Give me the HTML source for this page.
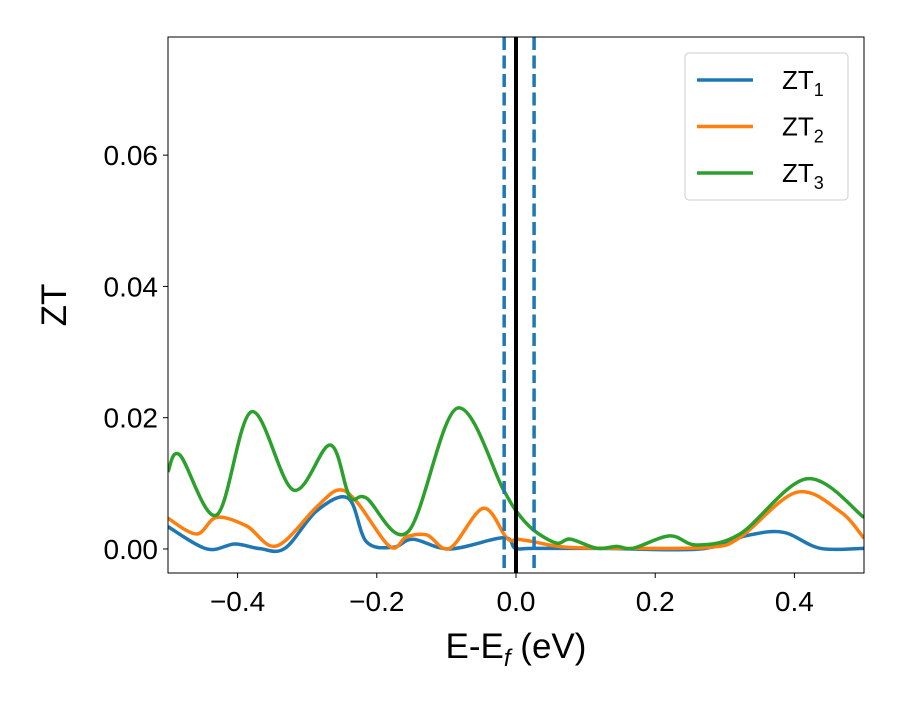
<!DOCTYPE html>
<html><head><meta charset="utf-8"><style>
body{margin:0;background:#fff;}
svg text{font-family:"Liberation Sans","DejaVu Sans",sans-serif;}
</style></head><body>
<svg id="chart" width="900" height="700" xmlns="http://www.w3.org/2000/svg">
<g id="series"></g>
<g id="axes"></g>
</svg>
<script>
const xTicks=[-0.4,-0.2,0.0,0.2,0.4];
const xTickLabels=["\u22120.4","\u22120.2","0.0","0.2","0.4"];
const yTicks=[0,0.02,0.04,0.06];
const yTickLabels=["0.00","0.02","0.04","0.06"];
const zt1X=[-0.5,-0.444,-0.404,-0.368,-0.332,-0.286,-0.241,-0.215,-0.176,-0.148,-0.095,-0.018,-0.001,0.025,0.121,0.264,0.331,0.384,0.437,0.5];
const zt1Y=[0.0034,0,0.00076,0.00005,0.0001,0.00584,0.00773,0.00111,0.00026,0.00148,0,0.00172,0.0001,0.0001,0.0001,0,0.00203,0.00254,0.0001,0.0001];
const zt2X=[-0.5,-0.459,-0.43,-0.387,-0.344,-0.286,-0.255,-0.229,-0.181,-0.157,-0.128,-0.095,-0.047,-0.013,0.003,0.025,0.073,0.168,0.279,0.322,0.403,0.466,0.5];
const zt2Y=[0.00468,0.00228,0.00482,0.0035,0.00046,0.00645,0.00899,0.00721,0.00035,0.00187,0.00213,0.00011,0.0062,0.00163,0.00148,0.00111,0.00026,0.0001,0.00026,0.00178,0.00864,0.00568,0.00162];
const zt3X=[-0.5,-0.483,-0.43,-0.38,-0.32,-0.267,-0.239,-0.215,-0.155,-0.085,-0.018,0.001,0.025,0.058,0.078,0.116,0.145,0.168,0.221,0.26,0.322,0.418,0.5];
const zt3Y=[0.01177,0.01432,0.00518,0.02091,0.00899,0.01584,0.00797,0.00777,0.00264,0.02143,0.00899,0.00568,0.0029,0.0009,0.0015,0.0001,0.0004,0.0001,0.002,0.0006,0.0023,0.0107,0.0048];
const vlineBlack=[0.0];
const vlineDashed=[-0.017,0.026];
const seriesNames=["ZT","ZT","ZT"];
const seriesSubs=["1","2","3"];
const colors=["#1f77b4","#ff7f0e","#2ca02c"];

const L=168,R=864,T=37,B=573;
const xMin=-0.5,xMax=0.5,yMin=-0.00366,yMax=0.078;
const sx=v=>L+(v-xMin)/(xMax-xMin)*(R-L);
const sy=v=>B-(v-yMin)/(yMax-yMin)*(B-T);
const NS="http://www.w3.org/2000/svg";
function mk(tag,attrs,parent){const e=document.createElementNS(NS,tag);for(const k in attrs)e.setAttribute(k,attrs[k]);parent.appendChild(e);return e;}
const sg=document.getElementById('series'),ag=document.getElementById('axes');
const clip=mk('clipPath',{id:'pc'},document.getElementById('chart'));
mk('rect',{x:L,y:T,width:R-L,height:B-T},clip);
sg.setAttribute('clip-path','url(#pc)');
function pathFor(xs,ys){
  const p=xs.map((x,i)=>[sx(x),sy(ys[i])]);
  let d=`M${p[0][0]},${p[0][1]}`;
  for(let i=0;i<p.length-1;i++){
    const p0=p[Math.max(i-1,0)],p1=p[i],p2=p[i+1],p3=p[Math.min(i+2,p.length-1)];
    const c1=[p1[0]+(p2[0]-p0[0])/6,p1[1]+(p2[1]-p0[1])/6];
    const c2=[p2[0]-(p3[0]-p1[0])/6,p2[1]-(p3[1]-p1[1])/6];
    d+=` C${c1[0]},${c1[1]} ${c2[0]},${c2[1]} ${p2[0]},${p2[1]}`;
  }
  return d;
}
const allX=[zt1X,zt2X,zt3X],allY=[zt1Y,zt2Y,zt3Y];
for(let s=0;s<3;s++){
  const el=mk('path',{d:pathFor(allX[s],allY[s]),fill:'none',stroke:colors[s],'stroke-width':3.5,'stroke-linejoin':'round'},sg);
  
  
}
vlineDashed.forEach(v=>{
  const el=mk('line',{x1:sx(v),x2:sx(v),y1:T,y2:B,stroke:'#1f77b4','stroke-width':3.5,'stroke-dasharray':'13,5.5'},sg);
  
  
});
vlineBlack.forEach(v=>{
  const el=mk('line',{x1:sx(v),x2:sx(v),y1:T,y2:B,stroke:'#000','stroke-width':4},sg);
  
  
});
const frame=mk('rect',{x:L,y:T,width:R-L,height:B-T,fill:'none',stroke:'#000','stroke-width':1},ag);


xTicks.forEach((v,i)=>{
  mk('line',{x1:sx(v),x2:sx(v),y1:B,y2:B+5,stroke:'#000'},ag);
  const t=mk('text',{x:sx(v),y:B+38,'font-size':28,'text-anchor':'middle'},ag);
  t.textContent=xTickLabels[i];
  
  
});
yTicks.forEach((v,i)=>{
  mk('line',{x1:L-5,x2:L,y1:sy(v),y2:sy(v),stroke:'#000'},ag);
  const t=mk('text',{x:L-10,y:sy(v)+10,'font-size':28,'text-anchor':'end'},ag);
  t.textContent=yTickLabels[i];
  
  
});
const xl=mk('text',{x:516,y:658,'font-size':35,'text-anchor':'middle'},ag);
xl.innerHTML='E-E<tspan font-style="italic" font-size="24" dy="8">f</tspan><tspan dy="-8"> (eV)</tspan>';


const yl=mk('text',{x:0,y:0,'font-size':35,'text-anchor':'middle',transform:'translate(66,305) rotate(-90)'},ag);
yl.textContent='ZT';


const lg=mk('g',{},ag);


mk('rect',{x:685,y:53,width:163,height:147,rx:4,fill:'#fff',stroke:'#ccc','stroke-width':1},lg);
for(let s=0;s<3;s++){
  const y=80+s*46.5;
  const ln=mk('line',{x1:697,x2:753,y1:y,y2:y,stroke:colors[s],'stroke-width':3.5},lg);
  
  
  const t=mk('text',{x:782,y:y+9,'font-size':26},lg);
  t.innerHTML=seriesNames[s]+'<tspan font-size="18" dy="7">'+seriesSubs[s]+'</tspan>';
  
  
}
</script>
</body></html>
